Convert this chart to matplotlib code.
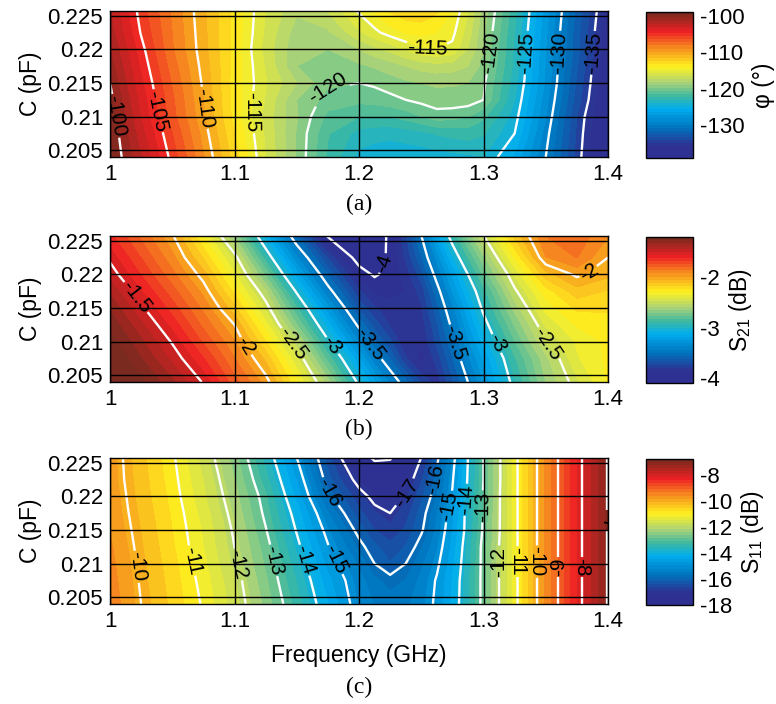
import numpy as np
import matplotlib
matplotlib.use('Agg')
import matplotlib.pyplot as plt
from matplotlib.colors import LinearSegmentedColormap, Normalize
from matplotlib.cm import ScalarMappable

plt.rcParams['font.family'] = ['Liberation Sans', 'DejaVu Sans']
plt.rcParams['mathtext.default'] = 'regular'
plt.rcParams['axes.unicode_minus'] = False

freq = [1.0, 1.025, 1.05, 1.075, 1.1, 1.125, 1.15, 1.175, 1.2, 1.2125, 1.225, 1.2375, 1.25, 1.2625, 1.275, 1.2875, 1.3, 1.325, 1.35, 1.375, 1.4]
cap = [0.2258, 0.2225, 0.22, 0.2175, 0.215, 0.2125, 0.21, 0.2075, 0.204]

phase = [
    [-102, -105.5, -108.2, -110.8, -113.3, -116, -117.8, -116.9, -114.8, -113.8, -112.8, -112.3, -112.2, -112.8, -114, -116, -118.4, -122.7, -127.5, -132.3, -136.5],
    [-101.5, -105.1, -108, -110.7, -113.3, -116.2, -118.5, -118.2, -116.2, -115.3, -114.5, -113.9, -113.7, -114, -114.7, -116.5, -118.8, -123, -127.8, -132.6, -136.8],
    [-101, -104.6, -107.9, -110.6, -113.4, -116.4, -118.8, -119, -118, -117.3, -116.7, -115.9, -115.2, -115, -115.3, -117, -119, -123.2, -128, -132.6, -137],
    [-100.5, -104.2, -107.5, -110.4, -113.4, -116.1, -119, -119.6, -119.2, -118.9, -118.5, -118, -117.6, -117.4, -117.5, -118, -119.4, -123.3, -128.1, -132.9, -137.2],
    [-100, -103.8, -107.1, -110.2, -113.5, -115.9, -118, -119.8, -120, -119.8, -119.5, -119.2, -119, -118.85, -118.9, -119, -119.8, -123.6, -128.2, -133.2, -137.3],
    [-99.6, -103.4, -106.8, -110, -113.4, -116.1, -119, -120.4, -120.7, -120.6, -120.3, -120, -119.7, -119.4, -119.4, -119.4, -120, -124, -128.6, -133.5, -137.5],
    [-99.2, -103.1, -106.6, -109.8, -113.4, -116.4, -118.9, -121.3, -122, -122, -122, -121.6, -121, -120.5, -120.6, -121, -121.8, -124.5, -129, -134, -138],
    [-99, -102.6, -106, -109.4, -113, -116.2, -119.1, -121.9, -123.4, -123.6, -123.7, -123.5, -123.3, -122.9, -122.7, -122.5, -122.9, -125, -129.5, -134.2, -138.3],
    [-98.8, -102, -105.4, -108.9, -112.5, -116, -119.1, -122.2, -124.3, -124.6, -124.7, -124.7, -124.6, -124.5, -124.3, -124.2, -124, -126.2, -130, -134.4, -138.6],
]
s21 = [
    [-1.62, -1.8, -1.99, -2.3, -2.67, -3.13, -3.6, -4.02, -4.15, -4.15, -3.95, -3.75, -3.5, -3.2, -2.93, -2.7, -2.5, -2.12, -1.85, -1.8, -1.92],
    [-1.52, -1.71, -1.9, -2.15, -2.46, -2.91, -3.37, -3.75, -4.07, -4.1, -3.96, -3.8, -3.6, -3.35, -3.1, -2.87, -2.67, -2.28, -1.93, -1.85, -2.0],
    [-1.45, -1.64, -1.83, -2.04, -2.35, -2.74, -3.2, -3.6, -3.93, -4.02, -3.95, -3.85, -3.7, -3.45, -3.22, -3.0, -2.78, -2.42, -2.1, -1.98, -2.05],
    [-1.36, -1.56, -1.75, -1.95, -2.24, -2.57, -3.02, -3.45, -3.8, -3.9, -3.92, -3.88, -3.78, -3.55, -3.3, -3.1, -2.9, -2.52, -2.25, -2.1, -2.15],
    [-1.28, -1.48, -1.67, -1.87, -2.12, -2.45, -2.86, -3.28, -3.68, -3.8, -3.85, -3.86, -3.82, -3.62, -3.4, -3.18, -2.97, -2.62, -2.33, -2.2, -2.2],
    [-1.22, -1.4, -1.59, -1.8, -2.0, -2.33, -2.72, -3.13, -3.53, -3.7, -3.82, -3.87, -3.85, -3.68, -3.47, -3.25, -3.05, -2.72, -2.42, -2.28, -2.25],
    [-1.16, -1.33, -1.51, -1.72, -1.92, -2.21, -2.55, -2.98, -3.38, -3.58, -3.72, -3.88, -3.87, -3.72, -3.53, -3.32, -3.13, -2.8, -2.5, -2.35, -2.27],
    [-1.1, -1.27, -1.44, -1.63, -1.85, -2.09, -2.42, -2.82, -3.22, -3.43, -3.6, -3.8, -3.92, -3.78, -3.6, -3.4, -3.22, -2.88, -2.6, -2.37, -2.27],
    [-1.02, -1.18, -1.33, -1.51, -1.75, -1.96, -2.28, -2.62, -3.03, -3.22, -3.4, -3.57, -3.75, -3.85, -3.68, -3.5, -3.3, -2.95, -2.65, -2.45, -2.28],
]
s11 = [
    [-9.75, -10.35, -10.93, -11.7, -12.55, -13.65, -15, -16.5, -17.7, -18.1, -18.05, -17.6, -17, -16.1, -15.2, -14, -13, -11.15, -9.55, -8.2, -6.98],
    [-9.75, -10.3, -10.87, -11.57, -12.4, -13.4, -14.67, -16.2, -17.2, -17.5, -17.6, -17.3, -16.65, -15.9, -15.05, -13.95, -13, -11.15, -9.55, -8.2, -6.98],
    [-9.7, -10.27, -10.82, -11.5, -12.28, -13.2, -14.45, -15.87, -16.8, -17.15, -17.25, -16.95, -16.4, -15.75, -14.95, -13.9, -12.95, -11.15, -9.55, -8.2, -6.98],
    [-9.67, -10.22, -10.76, -11.4, -12.17, -13.1, -14.2, -15.45, -16.5, -16.85, -17, -16.75, -16.2, -15.5, -14.75, -13.8, -12.95, -11.15, -9.55, -8.2, -6.98],
    [-9.62, -10.17, -10.72, -11.32, -12.07, -12.97, -14.04, -15.17, -16.15, -16.6, -16.8, -16.55, -16.07, -15.4, -14.65, -13.8, -12.93, -11.15, -9.55, -8.2, -6.98],
    [-9.55, -10.13, -10.67, -11.28, -12, -12.83, -13.87, -14.96, -15.85, -16.25, -16.5, -16.3, -15.8, -15.25, -14.55, -13.7, -12.85, -11.15, -9.55, -8.2, -6.98],
    [-9.5, -10.08, -10.62, -11.2, -11.92, -12.73, -13.7, -14.75, -15.55, -16, -16.3, -16.0, -15.55, -15.1, -14.45, -13.65, -12.85, -11.15, -9.55, -8.2, -6.98],
    [-9.45, -10.05, -10.57, -11.13, -11.8, -12.63, -13.55, -14.55, -15.35, -15.7, -15.85, -15.75, -15.4, -14.95, -14.35, -13.6, -12.85, -11.15, -9.55, -8.2, -6.98],
    [-9.4, -10, -10.52, -11.05, -11.72, -12.5, -13.38, -14.35, -15.25, -15.5, -15.65, -15.55, -15.3, -14.9, -14.3, -13.6, -12.85, -11.15, -9.55, -8.2, -6.98],
]

x_ticks = [1.0, 1.1, 1.2, 1.3, 1.4]
x_ticklabels = ['1', '1.1', '1.2', '1.3', '1.4']
y_ticks = [0.205, 0.21, 0.215, 0.22, 0.225]
y_ticklabels = ['0.205', '0.21', '0.215', '0.22', '0.225']

panels = [
    dict(z=phase, clim=(-139, -99), lines=[-135, -130, -125, -120, -115, -110, -105, -100],
         cticks=[-130, -120, -110, -100], clabel='φ (°)', cap='(a)', top=11, cap_y=204,
         manual=[(1.007, 0.2102), (1.036, 0.2108), (1.075, 0.2113), (1.112, 0.2107), (1.175, 0.2143),
                 (1.255, 0.2203), (1.305, 0.2195), (1.335, 0.2195), (1.36, 0.2195), (1.387, 0.2195)]),
    dict(z=s21, clim=(-4.1, -1.2), lines=[-4, -3.5, -3, -2.5, -2, -1.5],
         cticks=[-4, -3, -2], clabel='S$_{21}$ (dB)', cap='(b)', top=236, cap_y=429,
         manual=[(1.02, 0.2165), (1.108, 0.2092), (1.145, 0.2095), (1.177, 0.2092), (1.208, 0.2095),
                 (1.222, 0.2215), (1.277, 0.2098), (1.308, 0.2095), (1.35, 0.2095), (1.387, 0.2197)]),
    dict(z=s11, clim=(-18, -6.8), lines=[-18, -17, -16, -15, -14, -13, -12, -11, -10, -9, -8, -7],
         cticks=[-18, -16, -14, -12, -10, -8], clabel='S$_{11}$ (dB)', cap='(c)', top=458, cap_y=687,
         manual=[(1.02, 0.2095), (1.067, 0.2105), (1.102, 0.2098), (1.132, 0.2105), (1.156, 0.2105), (1.18, 0.2105),
                 (1.175, 0.2205), (1.238, 0.2205), (1.263, 0.2225), (1.272, 0.2185), (1.285, 0.2195), (1.3, 0.2185),
                 (1.312, 0.2103), (1.327, 0.2103), (1.343, 0.2103), (1.358, 0.2095), (1.378, 0.2095), (1.399, 0.2165)]),
]

cmap = LinearSegmentedColormap.from_list('pub', [
    (0.00, '#2e3192'), (0.08, '#2e3192'), (0.20, '#0072bc'), (0.33, '#00aeef'),
    (0.42, '#3db8a0'), (0.52, '#aed477'), (0.63, '#fff21f'), (0.75, '#f7941e'),
    (0.87, '#ed2024'), (1.00, '#7a2a1e')])

W, H = 776, 704
fig = plt.figure(figsize=(W / 100, H / 100), dpi=100)
PH = 146
FS = 16
LS = 16.5

for i, p in enumerate(panels):
    top = p['top']
    ax = fig.add_axes([110 / W, 1 - (top + PH) / H, 498 / W, PH / H])
    cax = fig.add_axes([646 / W, 1 - (top + PH + 1) / H, 47 / W, PH / H])
    lo, hi = p['clim']
    norm = Normalize(lo, hi)
    z = np.array(p['z'])
    ax.contourf(freq, cap, z, levels=np.linspace(lo, hi, 41), cmap=cmap, norm=norm, extend='both')
    cs = ax.contour(freq, cap, z, levels=p['lines'], colors='white', linewidths=1.7, linestyles='solid')
    ax.clabel(cs, manual=p['manual'], inline=True, inline_spacing=1,
              fmt=lambda v: f'{v:g}', fontsize=15, colors='black')
    ax.set_xlim(1.0, 1.4)
    ax.set_ylim(0.204, 0.2257)
    ax.set_xticks(x_ticks, x_ticklabels)
    ax.set_yticks(y_ticks, y_ticklabels)
    ax.tick_params(length=0, labelsize=FS, pad=5)
    ax.grid(True, color='black', linewidth=1.0)
    ax.set_axisbelow(False)
    for s in ax.spines.values():
        s.set_linewidth(1.0)
    ax.set_ylabel('C (pF)', fontsize=LS, labelpad=4)
    if i == 2:
        ax.set_xlabel('Frequency (GHz)', fontsize=LS, labelpad=9)
    fig.text(359 / W, 1 - p['cap_y'] / H, p['cap'], family='Liberation Serif', fontsize=17,
             ha='center', va='center')

    sm = ScalarMappable(norm=norm, cmap=cmap.resampled(48))
    cb = fig.colorbar(sm, cax=cax)
    cb.set_ticks(p['cticks'], labels=[f'{v:g}' for v in p['cticks']])
    cb.ax.tick_params(length=0, labelsize=FS, pad=5)
    cb.outline.set_linewidth(1.0)
    cb.set_label(p['clabel'], fontsize=LS, labelpad=5)

fig.savefig('out.png', dpi=100)
